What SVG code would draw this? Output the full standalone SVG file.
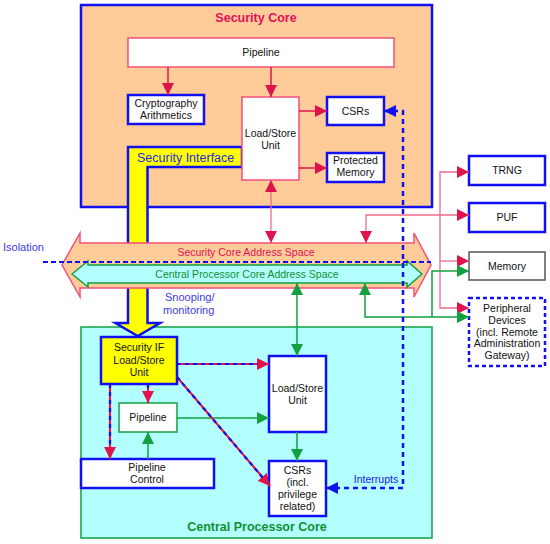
<svg xmlns="http://www.w3.org/2000/svg" width="550" height="544" viewBox="0 0 550 544">
<style>
text{font-family:"Liberation Sans",Arial,sans-serif;font-size:10.5px;fill:#111;text-anchor:middle}
.box{fill:#fff;stroke:#1010F0;stroke-width:2.5}
.pbox{fill:#fff;stroke:#F0507A;stroke-width:1.5}
.gbox{fill:#fff;stroke:#12A040;stroke-width:1.5}
.red{fill:none;stroke:#E0144C;stroke-width:1.5}
.pink{fill:none;stroke:#F06A8A;stroke-width:1.3}
.grn{fill:none;stroke:#12A040;stroke-width:1.5}
.rb{fill:none;stroke:#E0144C;stroke-width:2.2}
.bd{fill:none;stroke:#1010F0;stroke-width:2.2;stroke-dasharray:4 4}
.blu{fill:none;stroke:#1010F0;stroke-width:2.5;stroke-dasharray:5 4}
.vio{fill:#3B3BE6;text-anchor:start}
</style>
<defs>
<marker id="ar" markerUnits="userSpaceOnUse" markerWidth="13" markerHeight="12" refX="12" refY="6" orient="auto-start-reverse"><path d="M0,0 L12,6 L0,12 z" fill="#E0144C"/></marker>
<marker id="ag" markerUnits="userSpaceOnUse" markerWidth="13" markerHeight="12" refX="12" refY="6" orient="auto-start-reverse"><path d="M0,0 L12,6 L0,12 z" fill="#12A040"/></marker>
<marker id="ab" markerUnits="userSpaceOnUse" markerWidth="13" markerHeight="12" refX="12" refY="6" orient="auto-start-reverse"><path d="M0,0 L12,6 L0,12 z" fill="#1010F0"/></marker>
</defs>

<g id="security-core">
<rect x="81" y="5" width="351" height="202" fill="#FFCC99" stroke="#1010F0" stroke-width="2.5"/>
<text x="256" y="22" style="font-size:12.5px;font-weight:bold;fill:#E0105A">Security Core</text>
</g>

<g id="central-core">
<rect x="81" y="327" width="351" height="211" fill="#B3FFFF" stroke="#12A040" stroke-width="1.5"/>
<text x="257" y="531" style="font-size:12.5px;font-weight:bold;fill:#109030">Central Processor Core</text>
</g>

<g id="security-interface">
<polygon points="128,147 242,147 242,167 147.5,167 147.5,323 160,323 137.75,336 115.5,323 128,323" fill="#FFFF00" stroke="#1010F0" stroke-width="2.5"/>
<text x="137" y="162" class="vio" style="font-size:12.5px;fill:#2828E0">Security Interface</text>
</g>

<g id="sec-pipeline"><rect x="128" y="38" width="266" height="29" class="pbox"/><text x="261" y="56">Pipeline</text></g>
<g id="crypto"><rect x="128" y="95" width="76" height="29" class="box"/><text x="166" y="107">Cryptography</text><text x="166" y="119">Arithmetics</text></g>
<g id="sec-lsu"><rect x="242" y="97" width="57" height="83" class="pbox"/><text x="270.5" y="137">Load/Store</text><text x="270.5" y="149">Unit</text></g>
<g id="sec-csrs"><rect x="327" y="97" width="57" height="28" class="box"/><text x="355.5" y="115">CSRs</text></g>
<g id="prot-mem"><rect x="327" y="153" width="57" height="29" class="box"/><text x="355.5" y="164">Protected</text><text x="355.5" y="176">Memory</text></g>

<g id="sec-address-space">
<polygon points="62,265 80,233 80,243 414,243 414,233 431,265 414,297 414,288 80,288 80,297" fill="#FFCC99" stroke="#F0507A" stroke-width="1.5"/>
<text x="246" y="256" style="fill:#E0105A">Security Core Address Space</text>
</g>
<g id="cpu-address-space">
<polygon points="72,274 88,261 88,265 407,265 407,261 422,274 407,287 407,283 88,283 88,287" fill="#B3FFFF" stroke="#12A040" stroke-width="1.5"/>
<text x="247" y="278" style="fill:#109030">Central Processor Core Address Space</text>
</g>

<g id="trng"><rect x="469" y="156" width="76" height="29" class="box"/><text x="507" y="174">TRNG</text></g>
<g id="puf"><rect x="469" y="203" width="76" height="29" class="box"/><text x="507" y="221">PUF</text></g>
<g id="memory"><rect x="469" y="252" width="76" height="28" fill="#fff" stroke="#555" stroke-width="1.5"/><text x="507" y="270">Memory</text></g>
<g id="peripherals"><rect x="469" y="298" width="76" height="68" fill="#fff" stroke="#1010F0" stroke-width="2.5" stroke-dasharray="4 3"/>
<text x="507" y="312">Peripheral</text><text x="507" y="324">Devices</text><text x="507" y="335.5">(incl. Remote</text><text x="507" y="347">Administration</text><text x="507" y="358.5">Gateway)</text></g>

<g id="sif-lsu"><rect x="101" y="337" width="76" height="47" fill="#FFFF00" stroke="#1010F0" stroke-width="2.5"/><text x="139" y="351">Security IF</text><text x="139" y="363.5">Load/Store</text><text x="139" y="375.5">Unit</text></g>
<g id="cpu-lsu"><rect x="269" y="356" width="57" height="76" class="box"/><text x="297.5" y="392">Load/Store</text><text x="297.5" y="404">Unit</text></g>
<g id="cpu-pipeline"><rect x="119" y="403" width="58" height="29" class="gbox"/><text x="148" y="421">Pipeline</text></g>
<g id="pipeline-control"><rect x="81" y="459" width="133" height="29" class="box"/><text x="147" y="471">Pipeline</text><text x="147" y="483">Control</text></g>
<g id="cpu-csrs"><rect x="269" y="461" width="57" height="55" class="box"/><text x="297.5" y="474">CSRs</text><text x="297.5" y="486">(incl.</text><text x="297.5" y="498">privilege</text><text x="297.5" y="510">related)</text></g>

<g id="connectors">
<line x1="168" y1="67" x2="168" y2="95" class="red" marker-end="url(#ar)"/>
<line x1="271" y1="67" x2="271" y2="97" class="red" marker-end="url(#ar)"/>
<line x1="299" y1="111" x2="327" y2="111" class="red" marker-end="url(#ar)"/>
<line x1="299" y1="168" x2="327" y2="168" class="red" marker-end="url(#ar)"/>
<line x1="271" y1="180" x2="271" y2="243" class="pink" marker-start="url(#ar)" marker-end="url(#ar)"/>
<polyline points="366,243 366,215 469,215" class="pink" marker-start="url(#ar)" marker-end="url(#ar)"/>
<polyline points="469,172 440,172 440,308 469,308" class="pink" marker-start="url(#ar)" marker-end="url(#ar)"/>
<line x1="440" y1="261" x2="469" y2="261" class="pink" marker-end="url(#ar)"/>
<line x1="297" y1="283" x2="297" y2="356" class="grn" marker-start="url(#ag)" marker-end="url(#ag)"/>
<polyline points="365,283 365,317 469,317" class="grn" marker-start="url(#ag)" marker-end="url(#ag)"/>
<polyline points="432,317 432,271 469,271" class="grn" marker-end="url(#ag)"/>
<line x1="43" y1="262" x2="431" y2="262" stroke="#1010F0" stroke-width="2" stroke-dasharray="5 3"/>
<polyline points="384,111 403,111 403,488 326,488" class="blu" marker-start="url(#ab)" marker-end="url(#ab)"/>
<text x="376" y="483" style="fill:#1818F0">Interrupts</text>
<text x="165" y="301" class="vio" style="font-size:11px">Snooping/</text>
<text x="163" y="314" class="vio" style="font-size:11px">monitoring</text>
<text x="3" y="251" class="vio" style="font-size:11px">Isolation</text>
<line x1="177" y1="418" x2="269" y2="418" class="grn" marker-end="url(#ag)"/>
<line x1="148" y1="459" x2="148" y2="432" class="grn" marker-end="url(#ag)"/>
<line x1="297" y1="432" x2="297" y2="461" class="grn" marker-end="url(#ag)"/>
<line x1="177" y1="364" x2="269" y2="364" class="rb" marker-end="url(#ar)"/>
<line x1="177" y1="364" x2="258" y2="364" class="bd"/>
<line x1="148" y1="384" x2="148" y2="403" class="rb" marker-end="url(#ar)"/>
<line x1="148" y1="384" x2="148" y2="392" class="bd"/>
<line x1="110" y1="384" x2="110" y2="459" class="rb" marker-end="url(#ar)"/>
<line x1="110" y1="384" x2="110" y2="448" class="bd"/>
<line x1="177" y1="377" x2="270" y2="486" class="rb" marker-end="url(#ar)"/>
<line x1="177" y1="377" x2="263" y2="478" class="bd"/>
</g>
</svg>
